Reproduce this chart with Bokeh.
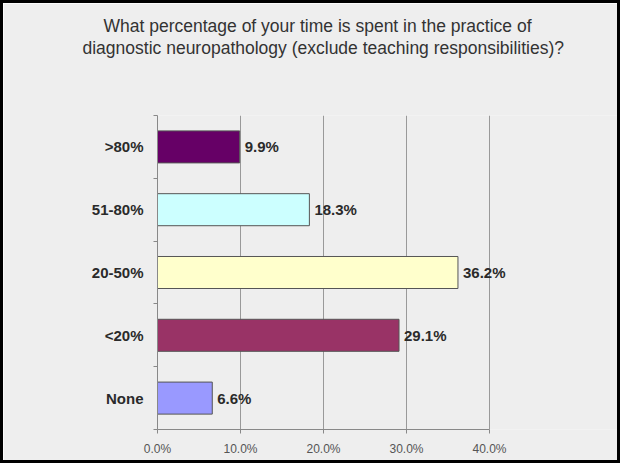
from bokeh.plotting import figure
from bokeh.models import (ColumnDataSource, LabelSet, FixedTicker, Title,
                          PrintfTickFormatter, Range1d, LinearAxis)
from bokeh.core.properties import value
from bokeh.embed import file_html
from bokeh.resources import INLINE

# ---- data ----
categories = [">80%", "51-80%", "20-50%", "<20%", "None"]
values = [9.9, 18.3, 36.2, 29.1, 6.6]
colors = ["#660066", "#CCFFFF", "#FFFFCC", "#993366", "#9999FF"]
x_ticks = [0, 10, 20, 30, 40]
title_lines = ["What percentage of your time is spent in the practice of",
               "diagnostic neuropathology (exclude teaching responsibilities)?"]

n = len(categories)
ypos = [n - i - 0.5 for i in range(n)]
src = ColumnDataSource(dict(
    cat=categories, val=values, color=colors, y=ypos,
    vlab=[f"{v:.1f}%" for v in values],
))

BG = "#EEEEEE"
FONT = "Liberation Sans"
XMAX = x_ticks[-1]

# frame extends to the right edge so that value labels are not clipped
W, H = 620, 463
frame_left, frame_bottom, frame_top = 154, 37, 112
plot_w = 332                              # px of the 0..40 region
x_end = XMAX * (W - frame_left) / plot_w

p = figure(width=W, height=H, output_backend="svg", toolbar_location=None,
           x_range=Range1d(0, x_end), y_range=Range1d(0, n),
           y_axis_location=None,
           min_border_left=frame_left, min_border_right=0,
           min_border_top=frame_top, min_border_bottom=frame_bottom,
           background_fill_color=BG, border_fill_color=BG)
p.outline_line_color = None
p.styles = {"border": "3px solid #000000"}

# x axis (below)
xa = p.below[0]
xa.bounds = (0, XMAX)
xa.ticker = FixedTicker(ticks=x_ticks)
xa.formatter = PrintfTickFormatter(format="%.1f%%")
xa.axis_line_color = "#888888"
xa.major_tick_line_color = "#888888"
xa.major_tick_out = 4
xa.major_tick_in = 0
xa.minor_tick_line_color = None
xa.major_label_text_font = FONT
xa.major_label_text_font_size = "12px"
xa.major_label_text_color = "#555555"
xa.major_label_standoff = 8

# spacer between the frame and the title: an axis whose single tick is
# drawn in the background colour at the far right of the frame
spacer_tick = XMAX * 1.3
spacer = LinearAxis(ticker=FixedTicker(ticks=[spacer_tick]), axis_line_color=None,
                    major_tick_line_color=BG, minor_tick_line_color=None,
                    major_tick_out=58, major_tick_in=0, minor_tick_out=0,
                    major_label_standoff=0,
                    major_label_overrides={spacer_tick: ""})
p.add_layout(spacer, "above")
title_offsets = [-54, -75]
for line, off in reversed(list(zip(title_lines, title_offsets))):
    p.add_layout(Title(text=line, align="left", offset=off, standoff=0,
                       text_font=FONT, text_font_size="17.5px",
                       text_font_style="normal", text_color="#333333"), "above")

p.xgrid.ticker = FixedTicker(ticks=x_ticks)
p.xgrid.grid_line_color = "#999999"
p.ygrid.grid_line_color = None

p.hbar(y="y", right="val", left=0, height=0.51, source=src,
       fill_color="color", line_color="#555555", line_width=1)

# y axis line with ticks at band boundaries
ya = LinearAxis(bounds=(0, n), ticker=FixedTicker(ticks=list(range(n + 1))),
                major_label_overrides={k: "" for k in range(n + 1)},
                major_label_standoff=0,
                axis_line_color="#888888", major_tick_line_color="#888888",
                major_tick_out=4, major_tick_in=0, minor_tick_line_color=None)
# category labels at band centres
yl = LinearAxis(ticker=FixedTicker(ticks=ypos),
                major_label_overrides={y: c for y, c in zip(ypos, categories)},
                major_label_standoff=4, axis_line_color=None,
                major_tick_line_color=None, minor_tick_line_color=None,
                major_label_text_font=FONT, major_label_text_font_size="15px",
                major_label_text_font_style="bold",
                major_label_text_color="#2a2a2a")
p.add_layout(ya, "left")
p.add_layout(yl, "left")

p.add_layout(LabelSet(x="val", y="y", text="vlab", source=src, x_offset=5,
                      text_align="left", text_baseline="middle",
                      text_font=value(FONT), text_font_size=value("15px"),
                      text_font_style=value("bold"), text_color=value("#2a2a2a")))

open("out.html", "w").write(file_html(p, INLINE))
